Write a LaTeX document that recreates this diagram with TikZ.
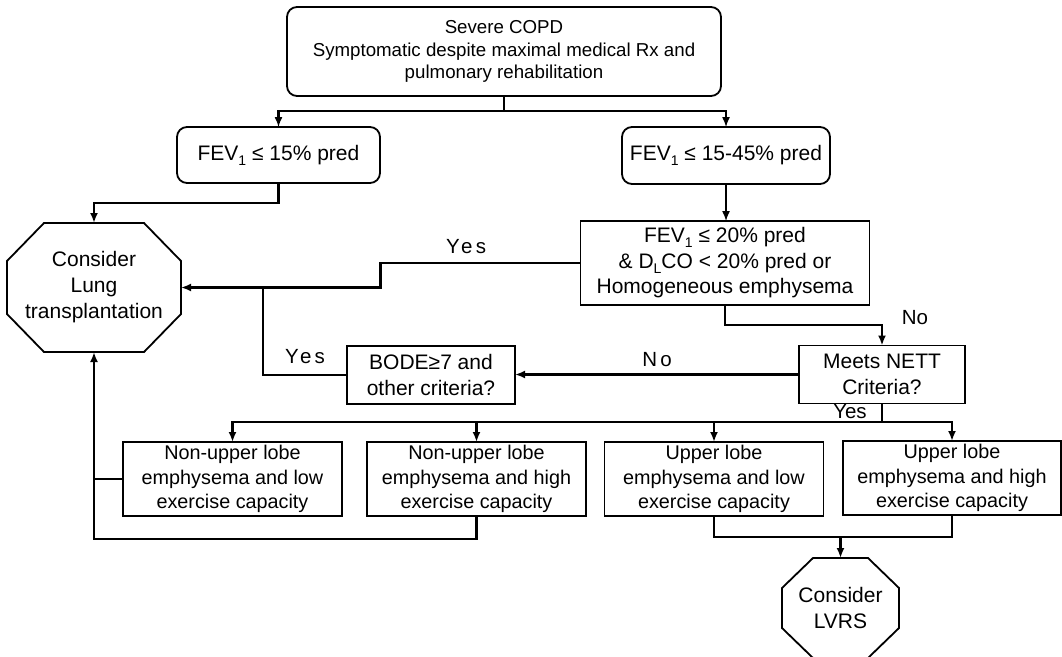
\documentclass[tikz,border=0pt]{standalone}
\usepackage{fontspec}
\setmainfont{Liberation Sans}
\newfontfamily\spacedfont[LetterSpace=16]{Liberation Sans}
\usetikzlibrary{arrows.meta,calc}
% lowered index such as FEV_1 or D_L
\newcommand{\lowsub}[1]{\raisebox{-0.45ex}{\fontsize{14}{14}\selectfont #1}}
% octagon outline around a named node (corner cut sizes x / y)
\newcommand{\drawocta}[3]{%
  \draw[line width=1.8pt] ([xshift=#2]#1.north west) -- ([xshift=-#2]#1.north east)
    -- ([yshift=-#3]#1.north east) -- ([yshift=#3]#1.south east)
    -- ([xshift=-#2]#1.south east) -- ([xshift=#2]#1.south west)
    -- ([yshift=#3]#1.south west) -- ([yshift=-#3]#1.north west) -- cycle;}
\begin{document}
\begin{tikzpicture}[x=1pt,y=-1pt,
  big/.style={font=\fontsize{21}{25.5}\selectfont},
  mid/.style={font=\fontsize{19.8}{24.5}\selectfont},
  small/.style={font=\fontsize{18.7}{22.5}\selectfont},
  box/.style={big, align=center, draw, line width=1.8pt, inner sep=0pt, outer sep=0pt},
  rbox/.style={box, rounded corners=10pt},
  octa/.style={big, align=center, inner sep=0pt, outer sep=0pt},
  link/.style={line width=2.4pt},
  thinlink/.style={line width=1.4pt},
  arr/.style={-{Latex[length=10pt,width=8pt]}},
  lbl/.style={font=\fontsize{20.5}{22}\selectfont, inner sep=0pt},
  slbl/.style={font=\spacedfont\fontsize{20.5}{22}\selectfont, inner sep=0pt}]
\useasboundingbox (0,0) rectangle (1062,656);

% boxes
\node[rbox, small, minimum width=434, minimum height=89]
  (top) at (504,51.5) {Severe COPD\\Symptomatic despite maximal medical Rx and\\pulmonary rehabilitation};
\node[rbox, minimum width=203, minimum height=56] (fev15) at (278.5,155) {FEV\lowsub{1} ≤ 15\% pred};
\node[rbox, minimum width=208, minimum height=57] (fev45) at (726,155.5) {FEV\lowsub{1} ≤ 15-45\% pred};
\node[box, minimum width=289, minimum height=84] (fev20) at (725,263)
  {FEV\lowsub{1} ≤ 20\% pred\\\& D\lowsub{L}CO < 20\% pred or\\Homogeneous emphysema};
\node[octa, font=\fontsize{21}{26}\selectfont, minimum width=174, minimum height=129] (lung) at (94,287.5)
  {Consider\\Lung\\transplantation};
\drawocta{lung}{37pt}{38pt}
\node[box, minimum width=168, minimum height=58] (bode) at (431,375) {BODE≥7 and\\other criteria?};
\node[box, minimum width=166, minimum height=58] (nett) at (882,374.5) {Meets NETT\\Criteria?};
\node[box, mid, minimum width=219, minimum height=74] (b1) at (232.5,479) {Non-upper lobe\\emphysema and low\\exercise capacity};
\node[box, mid, minimum width=219, minimum height=74] (b2) at (476.5,479) {Non-upper lobe\\emphysema and high\\exercise capacity};
\node[box, mid, minimum width=219, minimum height=74] (b3) at (714,479) {Upper lobe\\emphysema and low\\exercise capacity};
\node[box, mid, minimum width=218, minimum height=74] (b4) at (952,478) {Upper lobe\\emphysema and high\\exercise capacity};
\node[octa, minimum width=117, minimum height=100] (lvrs) at (840.5,608) {Consider\\LVRS};
\drawocta{lvrs}{31pt}{30pt}

% connectors
\coordinate (s1) at (504,111);
\draw[link] (top.south) -- (s1);
\draw[link] (s1) -| ([yshift=7pt]fev15.north);
\draw[link] (s1) -| ([yshift=7pt]fev45.north);
\draw[thinlink, arr] ([yshift=8pt]fev15.north) -- (fev15.north);
\draw[thinlink, arr] ([yshift=8pt]fev45.north) -- (fev45.north);
\draw[link, arr] (fev15.south) -- ++(0,20) -| (lung.north);
\draw[thinlink, arr] (fev45.south) -- (fev45.south |- fev20.north);

\draw[link, arr] (fev20.west) -- ++(-200,0) |- (lung.east);
\node[slbl] (yes1) at (466,247) {Yes};
\draw[thinlink] (bode.west) -| ([xshift=82pt]lung.east);
\node[slbl] (yes2) at (305,357) {Yes};

\draw[link, arr] (fev20.south) -- ++(0,20) -| (nett.north);
\node[lbl] (no1) at (915,318) {No};
\draw[link, arr] (nett.west) -- (nett.west -| bode.east);
\node[slbl] (no2) at (657,360) {No};

\coordinate (s2) at (882,422);
\draw[link] (nett.south) -- (s2);
\foreach \b in {b1,b2,b3,b4} \draw[link, arr] (s2) -| (\b.north);
\node[lbl] (yes3) at (850,412) {Yes};

\draw[link] (b1.west) -- (b1.west -| lung.south);
\draw[link, arr] (b2.south) -- ++(0,23) -| (lung.south);
\coordinate (m) at (840.5,537);
\draw[link] (b3.south) |- (m) -| (b4.south);
\draw[link, arr] (m) -- (lvrs.north);
\end{tikzpicture}
\end{document}
